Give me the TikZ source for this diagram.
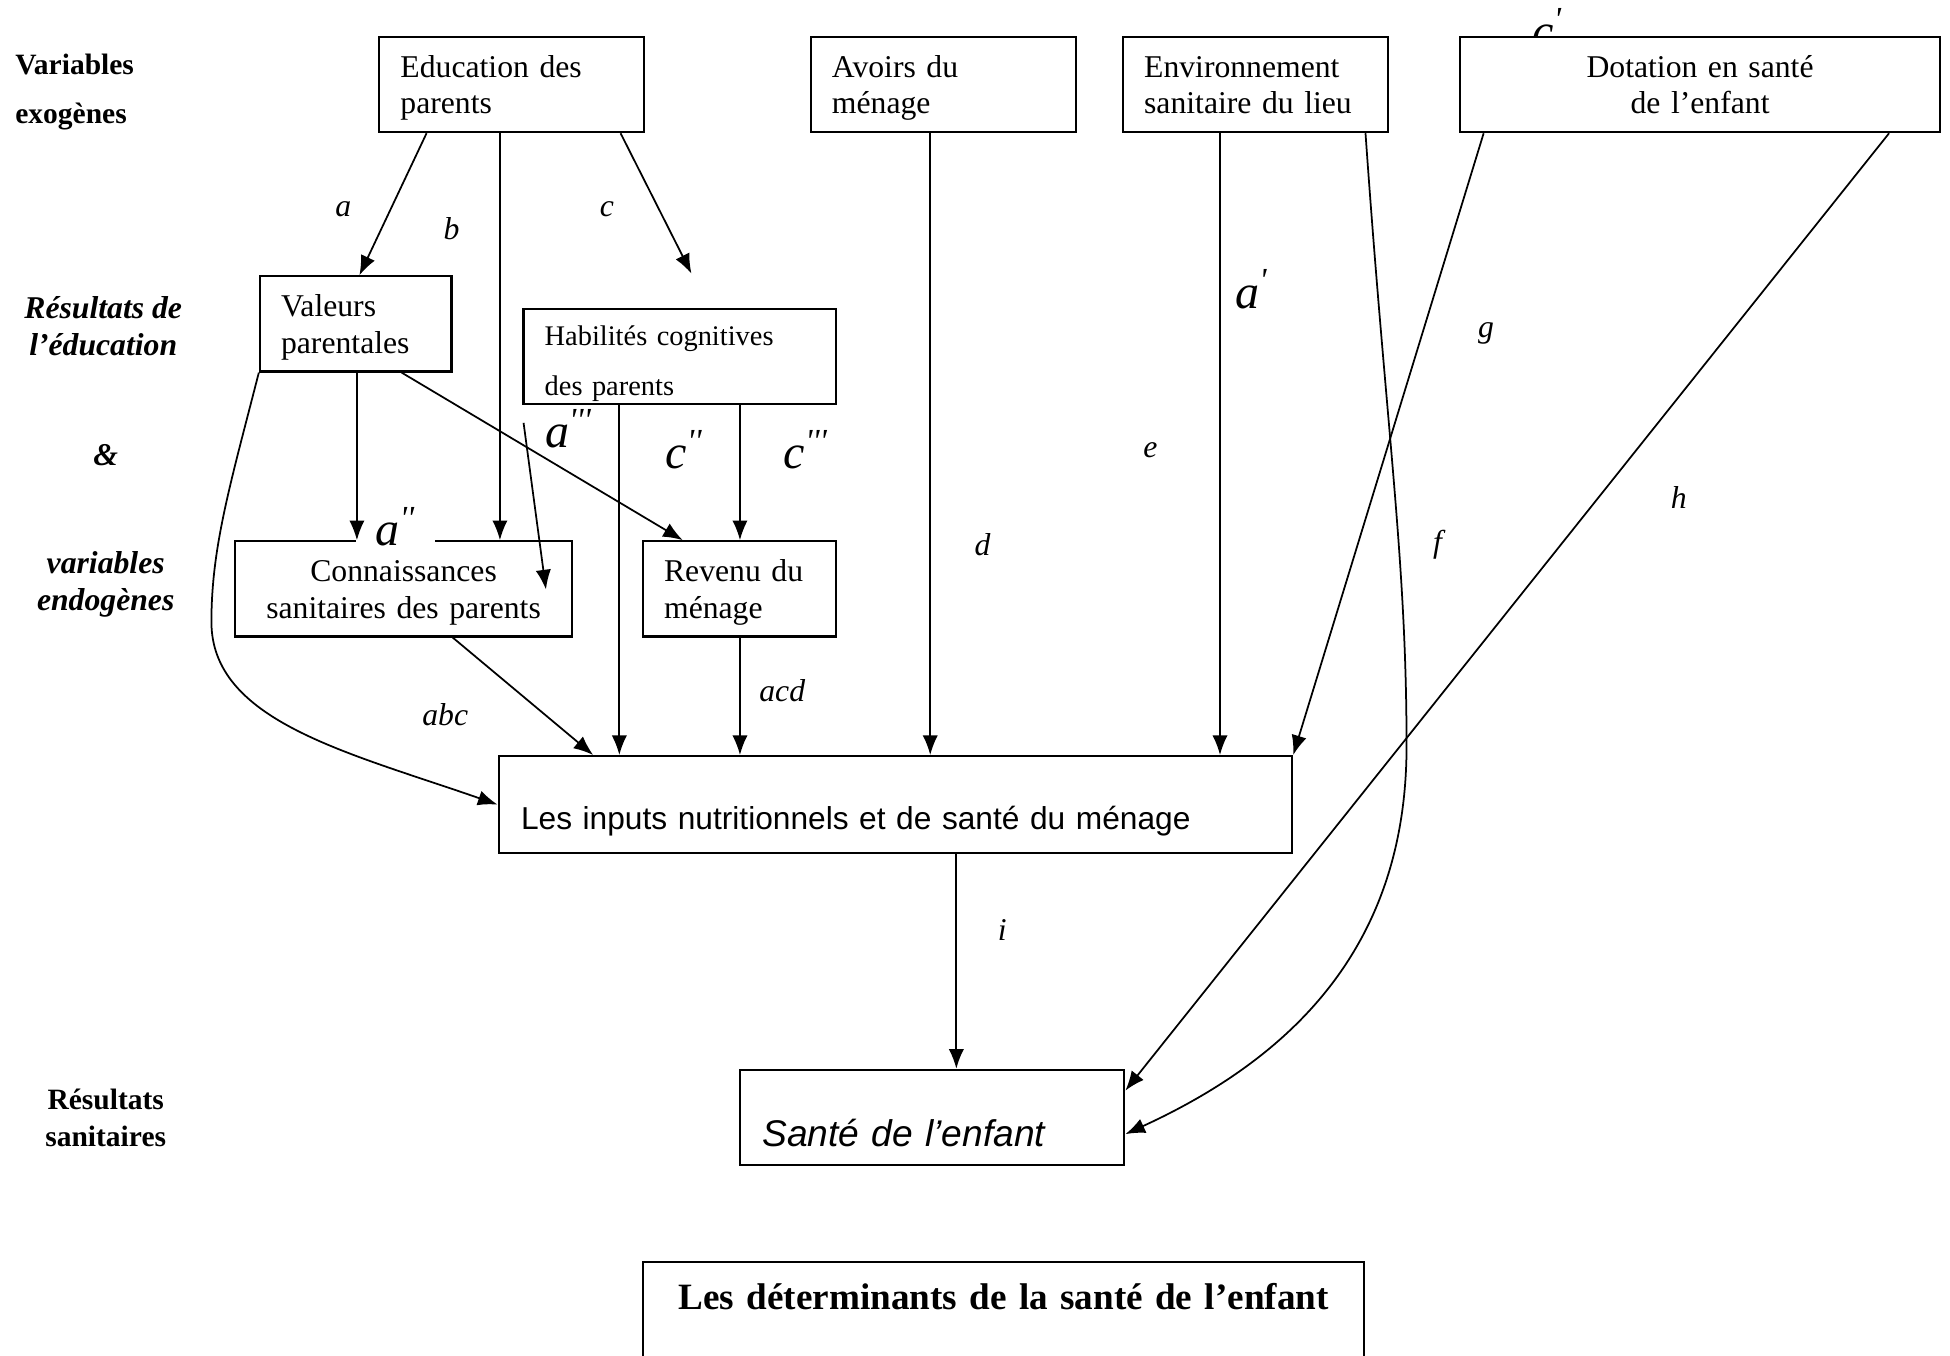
\documentclass[tikz,border=0pt]{standalone}
\usepackage{fontspec}
\setmainfont{Liberation Serif}
\setsansfont{Liberation Sans}
\usetikzlibrary{arrows.meta}

\begin{document}
\begin{tikzpicture}[
    x=0.2mm, y=-0.2mm,
    box/.style={draw, line width=1pt, fill=white, inner xsep=0.34cm, inner ysep=0pt, minimum height=1.53cm, text height=13.2pt, text depth=19.8pt, font=\fontsize{14.5}{16.7}\selectfont},
    arr/.style={-{Latex[length=9pt,width=7pt]}, line width=0.8pt},
    lbl/.style={inner sep=0pt, font=\fontsize{14.5}{17}\selectfont\itshape},
    big/.style={anchor=base west, inner sep=0pt, font=\fontsize{22}{24}\selectfont\itshape},
    side/.style={inner sep=0pt, align=center, font=\fontsize{14.5}{17}\selectfont\bfseries\itshape}
]
\clip (0,0) rectangle (1568,1090);

\node[side, anchor=west, align=left, font=\fontsize{13.5}{22.8}\selectfont\bfseries] (exo) at (12,74) {Variables\\exogènes};
\node[side] (resedu) at (83,262) {Résultats de\\l’éducation};
\node[side] (et) at (85,366) {\&};
\node[side] (endo) at (85,470) {variables\\endogènes};
\node[side, font=\fontsize{13.5}{17}\selectfont\bfseries] (ressan) at (85,899) {Résultats\\sanitaires};

\node[big] (lcp) at (1232,38) {c\textsuperscript{\textquotesingle}};

\node[box, text width=3.58cm, align=left] (edu) at (411.5,68) {Education des\\parents};
\node[box, text width=3.58cm, align=left] (avo) at (758.5,68) {Avoirs du\\ménage};
\node[box, text width=3.58cm, align=left] (env) at (1009.5,68) {Environnement\\sanitaire du lieu};
\node[box, text width=7.04cm, align=center] (dot) at (1367,68) {Dotation en santé\\de l’enfant};
\node[box, text width=2.40cm, align=left] (val) at (286,260.5) {Valeurs\\parentales};
\node[box, text width=4.34cm, align=left, text height=15.8pt, text depth=25.6pt, font=\fontsize{13}{22.8}\selectfont] (hab) at (546.5,286.5) {Habilités cognitives\\des parents};
\node[box, text width=4.74cm, align=center] (con) at (324.5,473.5) {Connaissances\\sanitaires des parents};
\node[box, text width=2.42cm, align=left] (rev) at (594.5,473.5) {Revenu du\\ménage};
\node[box, inner xsep=0.36cm, text width=12.04cm, align=left, minimum height=1.56cm, text height=25.8pt, text depth=3pt, font=\fontsize{14.5}{17}\selectfont\sffamily] (inp) at (720,647) {Les inputs nutritionnels et de santé du ménage};
\node[box, inner xsep=0.36cm, text width=5.46cm, align=left, text height=30.8pt, text depth=4pt, font=\fontsize{17}{20}\selectfont\sffamily\itshape] (san) at (749.5,898.5) {Santé de l’enfant};
\node[box, anchor=north, inner xsep=0pt, text width=11.6cm, align=center, text height=21.6pt, text depth=80pt, font=\fontsize{17}{20}\selectfont\bfseries] (titre) at (807,1014) {Les déterminants de la santé de l’enfant};

\node[big, anchor=base, fill=white, minimum width=1.28cm, inner ysep=0pt] (lapp) at (318,439) {a\textsuperscript{\textquotesingle\textquotesingle}};

\coordinate (ctip) at (556,220);
\coordinate (a3from) at (421,340);
\coordinate (a3to) at (439,474);

\draw[arr] (edu.south -| 343,0) -- (val.north -| 289,0);
\draw[arr] (edu.south -| 402,0) -- (con.north -| 402,0);
\draw[arr] (edu.south -| 499,0) -- (ctip);
\draw[arr] (val.south -| 287,0) -- (con.north -| 287,0);
\draw[arr] (val.south -| 323,0) -- (rev.north -| 549,0);
\draw[arr] (a3from) -- (a3to);
\draw[arr] (hab.south -| 498,0) -- (inp.north -| 498,0);
\draw[arr] (hab.south -| 595,0) -- (rev.north -| 595,0);
\draw[arr] (con.south -| 364,0) -- (inp.north -| 477,0);
\draw[arr] (rev.south -| 595,0) -- (inp.north -| 595,0);
\draw[arr] (avo.south -| 748,0) -- (inp.north -| 748,0);
\draw[arr] (env.south -| 981,0) -- (inp.north -| 981,0);
\draw[arr] (dot.south -| 1193,0) -- (inp.north east);
\draw[arr] (dot.south -| 1519,0) -- (san.east |- 0,877);
\draw[arr] (env.south -| 1098,0) .. controls (1115,350) and (1131,450) .. (1131,600) .. controls (1131,760) and (1040,850) .. (san.east |- 0,912);
\draw[arr] (inp.south -| 769,0) -- (san.north -| 769,0);
\draw[arr] (val.south west) .. controls (185,390) and (170,440) .. (170,500) .. controls (170,580) and (280,605) .. (inp.west);

\node[lbl] (la) at (276,168) {a};
\node[lbl] (lb) at (363,184) {b};
\node[lbl] (lc) at (488,168) {c};
\node[lbl] (ld) at (790,438) {d};
\node[lbl] (le) at (925,362) {e};
\node[lbl] (lf) at (1156,438) {f};
\node[lbl] (lg) at (1195,268) {g};
\node[lbl] (lh) at (1350,400) {h};
\node[lbl] (li) at (806,748) {i};
\node[lbl] (labc) at (358,575) {abc};
\node[lbl] (lacd) at (629,555) {acd};
\node[big] (lap) at (993,248) {a\textsuperscript{\textquotesingle}};
\node[big] (la3) at (438,360) {a\textsuperscript{\textquotesingle\textquotesingle\textquotesingle}};
\node[big] (lc2) at (535,377) {c\textsuperscript{\textquotesingle\textquotesingle}};
\node[big] (lc3) at (630,377) {c\textsuperscript{\textquotesingle\textquotesingle\textquotesingle}};
\end{tikzpicture}
\end{document}
